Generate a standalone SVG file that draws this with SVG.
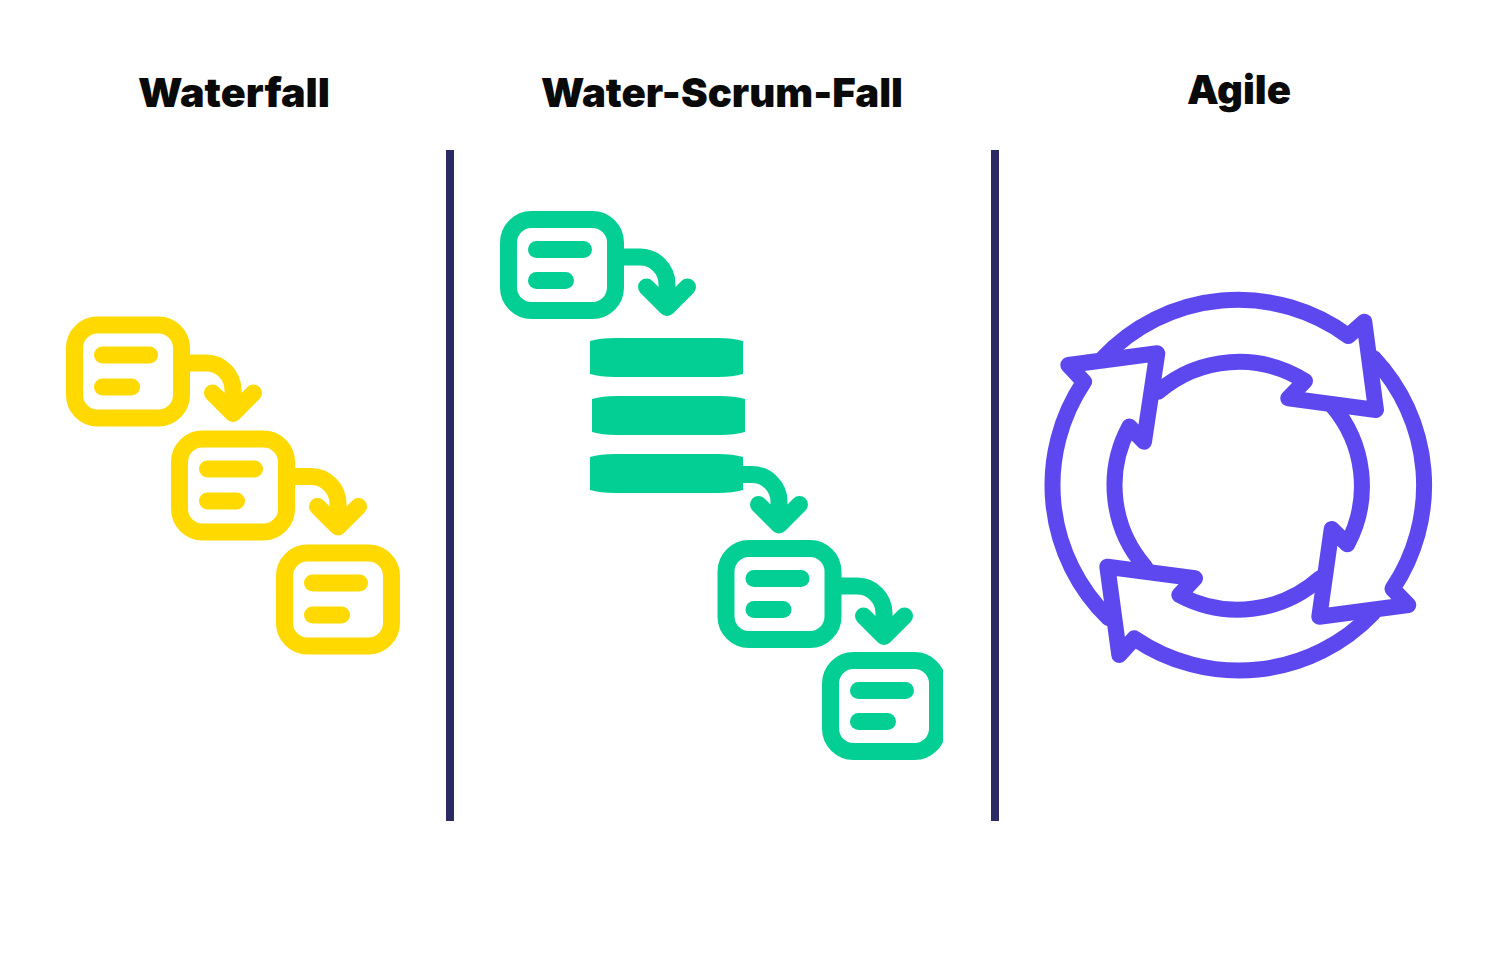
<svg xmlns="http://www.w3.org/2000/svg" width="1500" height="971" viewBox="0 0 1500 971">
<style>
.title{font-family:"Inter","Lato","Liberation Sans",sans-serif;font-weight:900;font-size:40px;fill:#0a0a0a;text-anchor:middle}
.div{fill:#2c2a63}
.y{color:#ffd900}
.g{color:#03cf95}
.ln{fill:none;stroke:currentColor;stroke-width:17;stroke-linecap:round;stroke-linejoin:round}
.bar{fill:currentColor}
.ag{fill:none;stroke:#5d48f0;stroke-width:16;stroke-linecap:round;stroke-linejoin:round}
</style>
<defs>
<g id="boxY"><rect class="ln" x="8.5" y="8.5" width="107" height="93" rx="23"/><rect class="bar" x="28" y="30" width="64" height="17" rx="8.5"/><rect class="bar" x="28" y="62" width="46" height="17" rx="8.5"/></g>
<g id="boxG"><rect class="ln" x="8.5" y="8.500" width="107" height="91" rx="23"/><rect class="bar" x="28" y="30" width="64" height="17" rx="8.5"/><rect class="bar" x="28" y="61" width="46" height="17" rx="8.5"/></g>
<path id="arrow" class="ln" d="M120,46H140A27,27 0 0 1 167,73V96M146.500,76L167,96.500L187.500,76"/>
<clipPath id="edge"><rect x="800" y="640" width="143" height="130"/></clipPath>
</defs>

<text class="title" x="234" y="107" textLength="192" lengthAdjust="spacingAndGlyphs">Waterfall</text>
<text class="title" x="722" y="107" textLength="362" lengthAdjust="spacingAndGlyphs">Water-Scrum-Fall</text>
<text class="title" x="1239" y="104" textLength="104" lengthAdjust="spacingAndGlyphs">Agile</text>

<rect class="div" x="446" y="150" width="8" height="671"/>
<rect class="div" x="991" y="150" width="8" height="671"/>

<g id="connectors">
<g class="y">
<use href="#arrow" x="66" y="317"/>
<use href="#arrow" x="171" y="430.500"/>
</g>
<g class="g">
<use href="#arrow" x="500" y="211"/>
<use href="#arrow" x="612" y="428.500"/>
<use href="#arrow" x="717" y="540"/>
</g>
</g>

<g id="waterfall-1" class="y"><use href="#boxY" x="66" y="316.500"/></g>
<g id="waterfall-2" class="y"><use href="#boxY" x="171" y="430.500"/></g>
<g id="waterfall-3" class="y"><use href="#boxY" x="276" y="544.500"/></g>

<g id="wsf-1" class="g"><use href="#boxG" x="500" y="211"/></g>
<g id="wsf-scrum" class="g">
<path class="bar" d="M590,341Q600,338 615,338H718Q733,338 743,341V374Q733,377 718,377H615Q600,377 590,374Z"/>
<path class="bar" d="M592,399Q602,396 617,396H720Q735,396 745,399V432Q735,435 720,435H617Q602,435 592,432Z"/>
<path class="bar" d="M590,457Q600,454 615,454H718Q733,454 743,457V490Q733,493 718,493H615Q600,493 590,490Z"/>
</g>
<g id="wsf-3" class="g"><use href="#boxG" x="717.500" y="540"/></g>
<g id="wsf-4" class="g" clip-path="url(#edge)"><use href="#boxG" x="822" y="652"/></g>

<g id="agile">
<path class="ag" d="M1103.100,358A185.700,185.700 0 0 1 1348.300,336L1364.300,321.700L1376,410L1288.300,398.300L1305,381A123.700,123.700 0 0 0 1158.300,391.700"/>
<path class="ag" d="M1373.600,357.900A185.700,185.700 0 0 1 1392.500,588.800L1408.300,605L1319.300,616.700L1331.700,529L1347.300,544.300A123.700,123.700 0 0 0 1331.700,405"/>
<path class="ag" d="M1373,613.200A185.700,185.700 0 0 1 1134.300,638.300L1119.300,655L1107.300,566.700L1195,578.300L1179.300,595A123.700,123.700 0 0 0 1320,578.300"/>
<path class="ag" d="M1108.500,618.100A185.700,185.700 0 0 1 1084,381.700L1068.300,365L1157.300,353.300L1144,441.700L1129.400,426.600A123.700,123.700 0 0 0 1145,566.700"/>
</g>
</svg>
